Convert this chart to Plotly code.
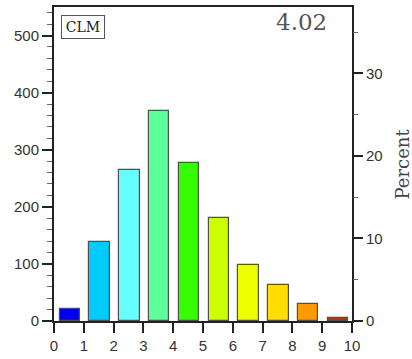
import plotly.graph_objects as go

bins = [0, 1, 2, 3, 4, 5, 6, 7, 8, 9]
counts = [21, 139, 265, 367, 277, 181, 98, 63, 30, 5]
colors = ["#0000F0", "#00CCFF", "#66FFFF", "#5CFF99", "#33FF00",
          "#CCFF00", "#EEFF00", "#FFDD00", "#FF9900", "#CC3300"]
x_ticks = list(range(0, 11))
y_ticks = [0, 100, 200, 300, 400, 500]
pct_ticks = [0, 10, 20, 30]
label_clm = "CLM"
label_mean = "4.02"
right_title = "Percent"

total = sum(counts)
ymax = 550
centers = [b + 0.53 for b in bins]
pct = [c * 100.0 / total for c in counts]

fig = go.Figure()
fig.add_trace(go.Bar(x=centers, y=counts, width=0.68,
                     marker=dict(color=colors, line=dict(color="#505050", width=1.2)),
                     showlegend=False, hoverinfo="skip"))
fig.add_trace(go.Scatter(x=centers, y=pct, yaxis="y2", mode="markers",
                         marker=dict(opacity=0), showlegend=False, hoverinfo="skip"))

tickfont = dict(family="Liberation Sans, Arial, sans-serif", size=15, color="#333333")
serif = "DejaVu Serif, serif"

fig.update_layout(
    template="none",
    width=412, height=359,
    margin=dict(l=54, r=60, t=7, b=38, autoexpand=False),
    paper_bgcolor="white", plot_bgcolor="white",
    bargap=0,
    xaxis=dict(range=[0, 10], tickvals=x_ticks, ticks="outside", ticklen=10,
               tickwidth=2, tickcolor="#222222", showline=True, linecolor="#222222",
               linewidth=2, mirror=True, showgrid=False, zeroline=False,
               automargin=False, tickfont=tickfont),
    yaxis=dict(range=[0, ymax], tickvals=y_ticks, ticks="outside", ticklen=10,
               tickwidth=2, tickcolor="#222222", showline=True, linecolor="#222222",
               linewidth=2, mirror=True, showgrid=False, zeroline=False,
               automargin=False, tickfont=tickfont,
               minor=dict(dtick=20, ticks="outside", ticklen=5, tickcolor="#666666",
                          tickwidth=1, showgrid=False)),
    yaxis2=dict(overlaying="y", side="right", range=[0, ymax * 100.0 / total],
                tickvals=pct_ticks, ticks="outside", ticklen=10, tickwidth=2,
                tickcolor="#222222", showgrid=False, zeroline=False, showline=False,
                automargin=False, tickfont=tickfont,
                minor=dict(dtick=5, ticks="outside", ticklen=5, tickcolor="#666666",
                           tickwidth=1, showgrid=False)),
)

fig.add_annotation(x=1.0 + (414 - 352) / 298.0, y=0.5, xref="paper", yref="paper",
                   text=right_title, showarrow=False, textangle=-90,
                   font=dict(family=serif, size=18, color="#444444"))
fig.add_annotation(x=(61 - 54) / 298.0, y=1 - (15 - 7) / 314.0, xref="paper", yref="paper",
                   xanchor="left", yanchor="top", text=label_clm, showarrow=False,
                   font=dict(family=serif, size=14, color="#222222"), width=36,
                   bordercolor="#555555", borderwidth=1, borderpad=3, bgcolor="white")
fig.add_annotation(x=(329 - 54) / 298.0, y=1.0, xref="paper", yref="paper", xanchor="right",
                   yanchor="top", text=label_mean, showarrow=False,
                   font=dict(family=serif, size=23, color="#555555"))

fig.write_html("out.html", config={"displayModeBar": False},
               post_script="document.body.style.margin='0';document.body.style.overflow='hidden';")
